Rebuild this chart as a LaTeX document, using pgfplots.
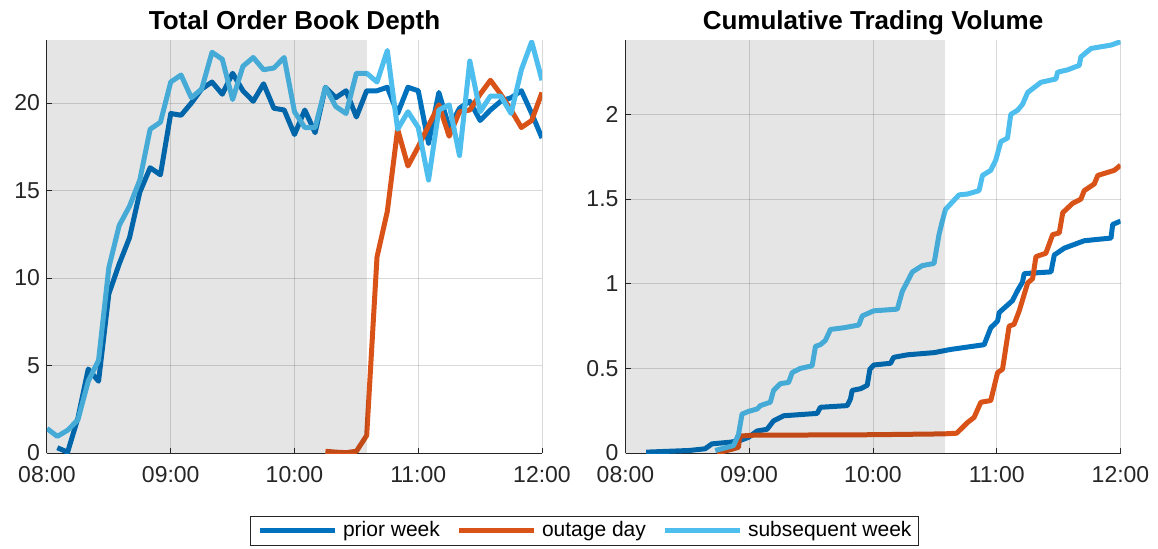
\documentclass[border=0pt]{standalone}
\usepackage{fontspec}
\setmainfont{Liberation Sans}
\usepackage{pgfplots}
\pgfplotsset{compat=1.18}

\definecolor{cprior}{rgb}{0,0.447,0.741}
\definecolor{coutage}{rgb}{0.85,0.325,0.098}
\definecolor{cnext}{rgb}{0.301,0.745,0.933}
\definecolor{axgray}{rgb}{0.15,0.15,0.15}

\pgfplotsset{
  mlab/.style={
    scale only axis,
    width=247.5pt, height=206.5pt,
    xmin=0, xmax=240,
    xtick={0,60,120,180,240},
    xticklabels={08:00,09:00,10:00,11:00,12:00},
    axis x line*=bottom, axis y line*=left,
    axis line style={axgray, line width=0.5pt},
    tick align=inside,
    major tick length=2.5pt,
    tick style={axgray, line width=0.5pt},
    grid=major,
    grid style={black, opacity=0.15, line width=0.5pt},
    ticklabel style={font=\fontsize{11.5}{13.8}\selectfont, text=axgray},
    xticklabel style={yshift=-3pt},
    /pgf/number format/assume math mode=true,
    title style={font=\bfseries\fontsize{13}{15.6}\selectfont, yshift=-7pt},
    every axis plot/.append style={line width=2.5pt, line join=round},
  }
}

\begin{document}
\begin{tikzpicture}
\path[use as bounding box] (-23.5pt,-47.5pt) rectangle (555.5pt,226.5pt);

\begin{axis}[mlab,
  at={(0pt,0pt)}, anchor=south west,
  title={Total Order Book Depth},
  ymin=0, ymax=23.6,
  ytick={0,5,10,15,20},
  legend columns=3,
  legend style={at={(1.0859,-0.1525)}, anchor=north,
    draw=axgray, line width=0.5pt,
    font=\fontsize{10.5}{12.6}\selectfont,
    inner xsep=3.6pt, inner ysep=2.6pt,
    nodes={inner sep=0pt},
    /tikz/every odd column/.append style={column sep=2.75pt},
    /tikz/every even column/.append style={column sep=8.3pt}},
  legend image code/.code={\draw[#1] (0pt,0pt) -- (37.5pt,0pt);},
]
\addplot[cprior] coordinates {
(5,0.3) (10,0.05) (15,2.0) (20,4.8) (25,4.1) (30,9.1) (35,10.8) (40,12.3)
(45,14.9) (50,16.3) (55,15.9) (60,19.4) (65,19.3) (70,20.0) (75,20.8) (80,21.2)
(85,20.5) (90,21.7) (95,20.7) (100,20.1) (105,21.1) (110,19.7) (115,19.6) (120,18.2)
(125,19.6) (130,18.3) (135,20.9) (140,20.3) (145,20.7) (150,19.2) (155,20.7) (160,20.7)
(165,20.9) (170,19.4) (175,20.9) (180,20.7) (185,17.7) (190,20.6) (195,18.6) (200,19.7)
(205,20.1) (210,19.0) (215,19.6) (220,20.1) (225,20.3) (230,20.7) (235,19.4) (240,18.0)};
\addlegendentry{prior week}
\addplot[coutage] coordinates {
(135,0.1) (140,0.05) (145,0.02) (150,0.1) (155,1.0) (160,11.2) (165,13.8) (170,18.5)
(175,16.4) (180,17.5) (185,18.7) (190,19.9) (195,18.1) (200,19.5) (205,19.6) (210,20.5)
(215,21.3) (220,20.5) (225,19.6) (230,18.6) (235,19.0) (240,20.6)};
\addlegendentry{outage day}
\addplot[cnext] coordinates {
(0,1.4) (5,0.95) (10,1.3) (15,1.9) (20,4.1) (25,5.3) (30,10.6) (35,13.0)
(40,14.1) (45,15.6) (50,18.5) (55,18.9) (60,21.2) (65,21.6) (70,20.3) (75,20.8)
(80,22.9) (85,22.5) (90,20.2) (95,22.1) (100,22.6) (105,21.9) (110,22.0) (115,22.6)
(120,19.5) (125,18.6) (130,18.6) (135,20.9) (140,19.8) (145,19.4) (150,21.7) (155,21.7)
(160,21.2) (165,23.0) (170,18.5) (175,19.5) (180,18.6) (185,15.6) (190,19.6) (195,19.9)
(200,17.0) (205,22.4) (210,19.5) (215,20.4) (220,20.4) (225,19.4) (230,21.9) (235,23.5)
(240,21.3)};
\addlegendentry{subsequent week}
\addplot[forget plot, draw=none, fill=black, fill opacity=0.1, line width=0pt]
  coordinates {(0,23.6) (155,23.6)} \closedcycle;
\end{axis}

\begin{axis}[mlab,
  at={(289.25pt,0pt)}, anchor=south west,
  title={Cumulative Trading Volume},
  ymin=0, ymax=2.44,
  ytick={0,0.5,1,1.5,2},
]
\addplot[cprior] coordinates {
(10,0.005) (31,0.015) (38.6,0.025) (41.9,0.054) (50.8,0.064) (55.6,0.074) (59.7,0.093)
(63.8,0.13) (68.6,0.14) (71.8,0.19) (76.7,0.22) (92.9,0.234) (94.5,0.27) (107.5,0.28)
(109.1,0.32) (109.9,0.37) (114,0.38) (117.2,0.40) (118.5,0.495) (120.4,0.52) (128.5,0.53)
(130,0.565) (136.6,0.58) (149.6,0.593) (157.7,0.612) (173.9,0.64) (177.1,0.74) (180.4,0.78)
(181.2,0.83) (187.6,0.90) (190.1,0.96) (192.5,1.01) (193.3,1.06) (206.3,1.07) (207.9,1.17)
(212.7,1.21) (222.4,1.254) (235.4,1.27) (236.2,1.35) (240,1.37)};
\addplot[coutage] coordinates {
(44.3,0) (52.4,0.025) (54.8,0.034) (55.3,0.10) (62,0.105) (120,0.108) (154.4,0.113)
(160.6,0.117) (165.8,0.18) (169,0.21) (172.3,0.30) (177.1,0.31) (180.4,0.475) (182.8,0.495)
(186,0.75) (188.4,0.76) (190.9,0.84) (195,1.005) (197.4,1.03) (199,1.16) (203.8,1.18)
(207.1,1.29) (210.3,1.30) (212,1.42) (216.8,1.475) (220.8,1.50) (222.4,1.55) (227.3,1.59)
(229,1.64) (237,1.67) (240,1.70)};
\addplot[cnext] coordinates {
(43.5,0.015) (52.4,0.044) (54.8,0.11) (56.5,0.23) (59.7,0.246) (63.8,0.26) (65.4,0.28)
(70.2,0.30) (71.8,0.37) (75.1,0.41) (79.1,0.417) (80.8,0.475) (84.8,0.50) (90.5,0.515)
(92.1,0.63) (94.5,0.64) (96.9,0.665) (99.4,0.73) (105.8,0.74) (113.1,0.756) (114.8,0.81)
(120.4,0.84) (131.8,0.85) (134.2,0.955) (139.1,1.07) (143.9,1.107) (149.6,1.12) (152,1.29)
(153.6,1.37) (155.2,1.44) (161.7,1.525) (165.8,1.53) (171.4,1.55) (173.1,1.64) (177.1,1.67)
(179.5,1.73) (182,1.84) (185.2,1.86) (186.8,2.00) (190.1,2.025) (192.5,2.06) (195,2.13)
(198.2,2.16) (201.4,2.19) (208.7,2.21) (209.5,2.25) (214.4,2.264) (220,2.29) (220.8,2.34)
(225.7,2.39) (235.4,2.41) (240,2.43)};
\addplot[forget plot, draw=none, fill=black, fill opacity=0.1, line width=0pt]
  coordinates {(0,2.44) (155,2.44)} \closedcycle;
\end{axis}
\end{tikzpicture}
\end{document}
